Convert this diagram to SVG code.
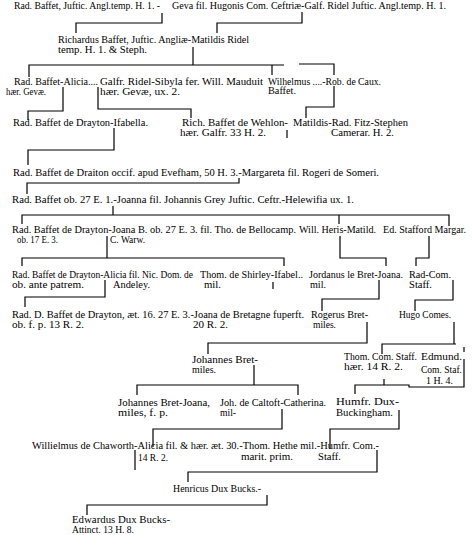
<svg xmlns="http://www.w3.org/2000/svg" width="472" height="535" viewBox="0 0 472 535">
<style>
text{font-family:"Liberation Serif","DejaVu Serif",serif;font-size:9.5px;fill:#000}
.c path{fill:none;stroke:#000;stroke-width:1.2}
</style>
<rect width="472" height="535" fill="#fff"/>
<g class="c" id="connectors">
<path d="M162,13V23H76V33"/>
<path d="M302,12V23H217V33"/>
<path d="M193,47V65"/>
<path d="M29,77V65H284"/>
<path d="M299,64H334V75"/>
<path d="M272,65V75"/>
<path d="M63,87V111H28V120"/>
<path d="M98,87V109H191V118"/>
<path d="M334,86V107H306V118"/>
<path d="M287,130V138"/>
<path d="M114,128V150H28V165"/>
<path d="M239,178V183H27V194"/>
<path d="M113,206V215"/>
<path d="M22,224V215H449V226"/>
<path d="M339,215V224"/>
<path d="M107,236V258"/>
<path d="M22,266V258H284V266"/>
<path d="M340,236V258H386V266"/>
<path d="M429,236V258H416V266"/>
<path d="M105,280V297H25V307"/>
<path d="M273,282V289"/>
<path d="M379,280V299H322V311"/>
<path d="M453,280V300H415V311"/>
<path d="M367,322V343H208V354"/>
<path d="M454,322V344"/>
<path d="M382,354V344H456"/>
<path d="M464,347V352"/>
<path d="M254,365V385"/>
<path d="M137,395V385H298V395"/>
<path d="M384,379V385"/>
<path d="M355,394V385H409V387H464V359"/>
<path d="M282,409V429H153V447"/>
<path d="M399,410V429H330V449"/>
<path d="M135,450V470"/>
<path d="M377,450V472H188V482"/>
<path d="M267,495V505H87V515"/>
</g>
<g id="n-rad-basset-1"><text x="14" y="8.5" textLength="146" lengthAdjust="spacingAndGlyphs">Rad. Baffet, Juftic. Angl.temp. H. 1. -</text></g>
<g id="n-geva"><text x="172" y="8.5" textLength="274" lengthAdjust="spacingAndGlyphs">Geva fil. Hugonis Com. Ceftriæ-Galf. Ridel Juftic. Angl.temp. H. 1.</text></g>
<g id="n-richardus"><text x="58" y="43" textLength="191" lengthAdjust="spacingAndGlyphs">Richardus Baffet, Juftic. Angliæ-Matildis Ridel</text>
<text x="58" y="52.5" textLength="89" lengthAdjust="spacingAndGlyphs">temp. H. 1. &amp; Steph.</text></g>
<g id="n-rad-alicia"><text x="14" y="84.5" textLength="84" lengthAdjust="spacingAndGlyphs">Rad. Baffet-Alicia....</text>
<text x="6" y="95" textLength="40" lengthAdjust="spacingAndGlyphs">hær. Gevæ.</text></g>
<g id="n-galfr"><text x="100" y="84.5" textLength="163" lengthAdjust="spacingAndGlyphs">Galfr. Ridel-Sibyla fer. Will. Mauduit</text>
<text x="100" y="95" textLength="80" lengthAdjust="spacingAndGlyphs">hær. Gevæ, ux. 2.</text></g>
<g id="n-wilhelmus"><text x="268" y="84.5" textLength="113" lengthAdjust="spacingAndGlyphs">Wilhelmus ....-Rob. de Caux.</text>
<text x="268" y="94" textLength="28" lengthAdjust="spacingAndGlyphs">Baffet.</text></g>
<g id="n-drayton-1"><text x="13" y="126" textLength="135" lengthAdjust="spacingAndGlyphs">Rad. Baffet de Drayton-Ifabella.</text></g>
<g id="n-rich"><text x="182" y="126" textLength="106" lengthAdjust="spacingAndGlyphs">Rich. Baffet de Wehlon-</text>
<text x="180" y="135.5" textLength="86" lengthAdjust="spacingAndGlyphs">hær. Galfr. 33 H. 2.</text></g>
<g id="n-matildis"><text x="293" y="126" textLength="115" lengthAdjust="spacingAndGlyphs">Matildis-Rad. Fitz-Stephen</text>
<text x="331" y="135.5" textLength="63" lengthAdjust="spacingAndGlyphs">Camerar. H. 2.</text></g>
<g id="n-draiton"><text x="13" y="176" textLength="366" lengthAdjust="spacingAndGlyphs">Rad. Baffet de Draiton occif. apud Evefham, 50 H. 3.-Margareta fil. Rogeri de Someri.</text></g>
<g id="n-rad-ob27"><text x="12" y="203" textLength="342" lengthAdjust="spacingAndGlyphs">Rad. Baffet ob. 27 E. 1.-Joanna fil. Johannis Grey Juftic. Ceftr.-Helewifia ux. 1.</text></g>
<g id="n-drayton-2"><text x="12" y="233" textLength="284" lengthAdjust="spacingAndGlyphs">Rad. Baffet de Drayton-Joana B. ob. 27 E. 3. fil. Tho. de Bellocamp.</text>
<text x="17" y="243" textLength="41" lengthAdjust="spacingAndGlyphs">ob. 17 E. 3.</text>
<text x="110" y="243" textLength="35" lengthAdjust="spacingAndGlyphs">C. Warw.</text></g>
<g id="n-will-heris"><text x="299" y="233" textLength="77" lengthAdjust="spacingAndGlyphs">Will. Heris-Matild.</text></g>
<g id="n-stafford"><text x="383" y="233" textLength="83" lengthAdjust="spacingAndGlyphs">Ed. Stafford Margar.</text></g>
<g id="n-drayton-3"><text x="12" y="278" textLength="181" lengthAdjust="spacingAndGlyphs">Rad. Baffet de Drayton-Alicia fil. Nic. Dom. de</text>
<text x="12" y="288" textLength="72" lengthAdjust="spacingAndGlyphs">ob. ante patrem.</text>
<text x="113" y="288" textLength="37" lengthAdjust="spacingAndGlyphs">Andeley.</text></g>
<g id="n-shirley"><text x="200" y="278" textLength="103" lengthAdjust="spacingAndGlyphs">Thom. de Shirley-Ifabel..</text>
<text x="204" y="288" textLength="17" lengthAdjust="spacingAndGlyphs">mil.</text></g>
<g id="n-jordanus"><text x="309" y="278" textLength="94" lengthAdjust="spacingAndGlyphs">Jordanus le Bret-Joana.</text>
<text x="310" y="288" textLength="16" lengthAdjust="spacingAndGlyphs">mil.</text></g>
<g id="n-rad-com"><text x="409" y="278" textLength="42" lengthAdjust="spacingAndGlyphs">Rad-Com.</text>
<text x="409" y="288" textLength="23" lengthAdjust="spacingAndGlyphs">Staff.</text></g>
<g id="n-drayton-4"><text x="12" y="318" textLength="292" lengthAdjust="spacingAndGlyphs">Rad. D. Baffet de Drayton, æt. 16. 27 E. 3.-Joana de Bretagne fuperft.</text>
<text x="12" y="327.5" textLength="72" lengthAdjust="spacingAndGlyphs">ob. f. p. 13 R. 2.</text>
<text x="193" y="327.5" textLength="35" lengthAdjust="spacingAndGlyphs">20 R. 2.</text></g>
<g id="n-rogerus"><text x="311" y="318" textLength="57" lengthAdjust="spacingAndGlyphs">Rogerus Bret-</text>
<text x="313" y="327.5" textLength="23" lengthAdjust="spacingAndGlyphs">miles.</text></g>
<g id="n-hugo"><text x="399" y="318" textLength="52" lengthAdjust="spacingAndGlyphs">Hugo Comes.</text></g>
<g id="n-johannes-1"><text x="192" y="363" textLength="66" lengthAdjust="spacingAndGlyphs">Johannes Bret-</text>
<text x="192" y="372.5" textLength="24" lengthAdjust="spacingAndGlyphs">miles.</text></g>
<g id="n-thom-com"><text x="344" y="360" textLength="73" lengthAdjust="spacingAndGlyphs">Thom. Com. Staff.</text>
<text x="344" y="370" textLength="59" lengthAdjust="spacingAndGlyphs">hær. 14 R. 2.</text></g>
<g id="n-edmund"><text x="421" y="360" textLength="41" lengthAdjust="spacingAndGlyphs">Edmund.</text>
<text x="421" y="373" textLength="41" lengthAdjust="spacingAndGlyphs">Com. Staf.</text>
<text x="426" y="384" textLength="27" lengthAdjust="spacingAndGlyphs">1 H. 4.</text></g>
<g id="n-johannes-2"><text x="118" y="406" textLength="92" lengthAdjust="spacingAndGlyphs">Johannes Bret-Joana,</text>
<text x="118" y="415.5" textLength="50" lengthAdjust="spacingAndGlyphs">miles, f. p.</text></g>
<g id="n-caltoft"><text x="220" y="406" textLength="106" lengthAdjust="spacingAndGlyphs">Joh. de Caltoft-Catherina.</text>
<text x="220" y="415.5" textLength="16" lengthAdjust="spacingAndGlyphs">mil-</text></g>
<g id="n-humfr-dux"><text x="336" y="405" textLength="63" lengthAdjust="spacingAndGlyphs">Humfr. Dux-</text>
<text x="336" y="415.5" textLength="57" lengthAdjust="spacingAndGlyphs">Buckingham.</text></g>
<g id="n-chaworth"><text x="32" y="449" textLength="347" lengthAdjust="spacingAndGlyphs">Willielmus de Chaworth-Alicia fil. &amp; hær. æt. 30.-Thom. Hethe mil.-Humfr. Com.-</text>
<text x="138" y="461" textLength="30" lengthAdjust="spacingAndGlyphs">14 R. 2.</text>
<text x="241" y="460" textLength="52" lengthAdjust="spacingAndGlyphs">marit. prim.</text>
<text x="318" y="460" textLength="23" lengthAdjust="spacingAndGlyphs">Staff.</text></g>
<g id="n-henricus"><text x="173" y="492" textLength="88" lengthAdjust="spacingAndGlyphs">Henricus Dux Bucks.-</text></g>
<g id="n-edwardus"><text x="72" y="523" textLength="98" lengthAdjust="spacingAndGlyphs">Edwardus Dux Bucks-</text>
<text x="72" y="533" textLength="62" lengthAdjust="spacingAndGlyphs">Attinct. 13 H. 8.</text></g>
</svg>
